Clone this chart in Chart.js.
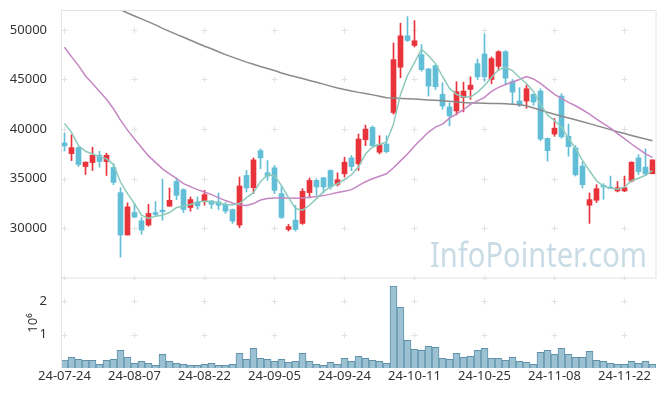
<!DOCTYPE html>
<html lang="en">
<head>
<meta charset="UTF-8" />
<title>Chart</title>
<script src="https://cdn.jsdelivr.net/npm/chart.js@4.4.1/dist/chart.umd.min.js"></script>
<style>
  body { margin: 0; background: #fff; }
  #wrap { position: relative; width: 665px; height: 396px; }
  #price { position: absolute; left: 0; top: 0; }
  #vol { position: absolute; left: 0; top: 278px; }
</style>
</head>
<body>
<div id="wrap">
  <canvas id="price" width="665" height="280"></canvas>
  <canvas id="vol" width="665" height="118"></canvas>
</div>
<script>
// trading days
const dates = [
  "24-07-24","24-07-25","24-07-26","24-07-29","24-07-30","24-07-31","24-08-01","24-08-02","24-08-05","24-08-06",
  "24-08-07","24-08-08","24-08-09","24-08-12","24-08-13","24-08-14","24-08-16","24-08-19","24-08-20","24-08-21",
  "24-08-22","24-08-23","24-08-26","24-08-27","24-08-28","24-08-29","24-08-30","24-09-02","24-09-03","24-09-04",
  "24-09-05","24-09-06","24-09-09","24-09-10","24-09-11","24-09-12","24-09-13","24-09-19","24-09-20","24-09-23",
  "24-09-24","24-09-25","24-09-26","24-09-27","24-09-30","24-10-02","24-10-04","24-10-07","24-10-08","24-10-10",
  "24-10-11","24-10-14","24-10-15","24-10-16","24-10-17","24-10-18","24-10-21","24-10-22","24-10-23","24-10-24",
  "24-10-25","24-10-28","24-10-29","24-10-30","24-10-31","24-11-01","24-11-04","24-11-05","24-11-06","24-11-07",
  "24-11-08","24-11-11","24-11-12","24-11-13","24-11-14","24-11-15","24-11-18","24-11-19","24-11-20","24-11-21",
  "24-11-22","24-11-25","24-11-26","24-11-27","24-11-28"
];

const opens = [
  38600,37530,38130,36230,36630,37370,36730,36130,33600,29330,
  31600,30770,30330,31600,31830,32230,34730,33900,32100,32670,
  32730,32770,32670,32430,31900,30330,35330,34100,37830,35600,
  36100,33500,29900,30830,30500,33600,34830,35100,35830,34430,
  35500,37100,36500,38930,40170,37670,38500,41670,46230,49400,
  48430,47500,46070,46400,43500,42230,41830,43170,44000,46600,
  47570,45000,46330,47800,44770,42830,42830,43500,43830,39070,
  39500,43330,39270,38100,36270,32330,32830,34330,34170,33770,
  33770,34770,37100,36170,35500
];
const highs = [
  39600,39430,38200,36700,38170,37770,37570,36500,34100,32570,
  32500,31100,32430,32700,34970,34070,35000,34000,33170,33170,
  33830,32800,33570,32600,31950,35170,35830,37100,38000,36830,
  36330,34270,30400,32330,34000,35070,35000,35150,35900,35600,
  37170,37330,39500,40400,40330,39330,39330,48670,50670,51330,
  50930,48500,46100,46500,44670,42670,44770,44730,45270,47070,
  49600,47270,47900,47900,45000,44170,44430,43550,44070,39100,
  41070,43570,40500,38330,36670,33570,34400,34500,35270,34730,
  35270,36700,37430,38000,36900
];
const lows = [
  37800,36830,36230,35430,35830,36170,35330,34400,27100,29330,
  31100,29400,30230,31200,30830,32230,32900,31600,31730,31930,
  32330,32000,31900,31500,30500,30070,33670,33500,36000,34830,
  33500,31000,29730,29730,30400,33070,33330,33570,33930,34270,
  35170,35800,35830,38330,38170,37500,37600,41500,45170,48830,
  48270,45830,43330,44000,42000,40330,41430,41730,43000,45000,
  44830,44570,45900,44570,42500,42270,42100,42400,38830,36770,
  39270,39070,37270,35270,34070,30500,32600,32930,34000,33670,
  33700,34670,35430,35330,35500
];
const closes = [
  38300,38130,36430,36670,37370,36730,37370,34630,29330,32170,
  31130,29830,31500,31400,31670,32830,33330,31900,32900,32270,
  33400,32430,32330,31730,30730,34270,34070,36900,37100,35270,
  33830,31100,30170,29900,33730,34830,34170,34170,34170,34900,
  36670,36230,39000,40000,38330,38430,37730,47000,49400,48930,
  48900,46000,44330,44270,42330,41330,43770,43830,44430,45270,
  45270,47100,47800,45130,43730,42430,44070,42730,39000,37830,
  40100,39230,38230,35400,34400,32900,34000,34170,34000,34100,
  34100,36670,35730,35500,36900
];

// moving averages
const ma5 = [
  40570,39670,38330,37770,37500,37230,37000,36430,34670,33500,
  32500,31330,31000,31230,31330,31600,32100,32230,32400,32670,
  32730,32670,32570,32400,32350,32500,33100,33600,34700,35400,
  35300,34300,33100,32000,31830,32330,33000,33700,34200,34500,
  34900,35400,36200,37500,38200,38450,38700,40500,43500,45400,
  46700,48050,47400,46600,45300,44100,43500,43230,43230,43700,
  44400,45200,46000,46200,45900,45200,44600,43800,42500,41400,
  40850,40200,39100,38050,36850,35800,34800,34250,34050,33950,
  34150,34800,35050,35350,35830
];
const ma20 = [
  48250,47300,46400,45350,44600,43800,43000,42050,40900,39900,
  39000,38150,37300,36650,36000,35500,35050,34500,34200,33900,
  33670,33400,33100,32800,32550,32350,32300,32500,32850,33000,
  33070,33070,33070,33030,33050,33130,33200,33300,33450,33620,
  33750,33900,34300,34700,35000,35250,35500,36100,36800,37500,
  38300,39000,39700,40200,40500,41100,41500,41950,42500,42850,
  43200,43800,44200,44500,44750,45000,45300,45050,44600,44050,
  43500,43100,42700,42350,41950,41500,41000,40550,40100,39550,
  39050,38500,38000,37500,37150
];
const ma120 = [
  54500,54200,53900,53600,53300,53000,52650,52330,52030,51700,
  51400,51100,50800,50500,50150,49850,49550,49250,48950,48650,
  48350,48100,47800,47500,47250,47000,46750,46530,46300,46100,
  45900,45650,45450,45270,45100,44900,44720,44530,44330,44140,
  44000,43830,43700,43580,43450,43320,43160,43130,43090,43060,
  43030,42980,42940,42900,42850,42800,42730,42670,42640,42620,
  42600,42590,42580,42560,42510,42450,42350,42130,41920,41700,
  41500,41300,41120,40940,40750,40550,40350,40150,39950,39740,
  39550,39360,39180,39000,38830
];

// volume in millions
const volume = [
  0.24,0.32,0.26,0.23,0.23,0.11,0.23,0.26,0.53,0.32,
  0.14,0.20,0.14,0.08,0.41,0.20,0.14,0.11,0.08,0.08,
  0.11,0.14,0.08,0.08,0.11,0.44,0.26,0.59,0.29,0.26,
  0.20,0.26,0.17,0.20,0.44,0.20,0.11,0.08,0.17,0.11,
  0.29,0.20,0.35,0.29,0.23,0.20,0.14,2.45,1.81,0.83,
  0.56,0.53,0.65,0.62,0.29,0.26,0.44,0.32,0.35,0.53,
  0.59,0.29,0.29,0.23,0.32,0.20,0.17,0.11,0.47,0.53,
  0.41,0.59,0.41,0.32,0.32,0.50,0.23,0.20,0.14,0.11,
  0.11,0.20,0.14,0.20,0.11
];

const priceTicks = [30000, 35000, 40000, 45000, 50000];
const volTicks = [1, 2];

const FONT = '"Noto Sans", "DejaVu Sans", sans-serif';
const UP = "#e8333b";
const DOWN = "#62bed7";
const candleColors = closes.map((c, i) => (c >= opens[i] ? UP : DOWN));

// fixed axis box, no extra padding for edge labels
function fitY(s) {
  s.width = 61;
  s.paddingTop = 0;
  s.paddingBottom = 0;
}

// small "+" marks where grid lines would cross
function crossMarks(chart, yValues, withBottom) {
  const { ctx, chartArea, scales } = chart;
  ctx.save();
  ctx.strokeStyle = "#e2e2e2";
  ctx.lineWidth = 1;
  const ys = yValues.map((v) => scales.y.getPixelForValue(v));
  if (withBottom) ys.push(chartArea.bottom);
  dates.forEach((d, i) => {
    if (i % 10 !== 0) return;
    const x = Math.floor(scales.x.getPixelForValue(i)) + 0.5;
    ys.forEach((yy) => {
      const y = Math.round(yy) + 0.5;
      ctx.beginPath();
      ctx.moveTo(x - 3, y); ctx.lineTo(x + 3, y);
      ctx.moveTo(x, y - 3); ctx.lineTo(x, y + 3);
      ctx.stroke();
    });
  });
  ctx.restore();
}

const pricePanel = {
  id: "pricePanel",
  beforeDatasetsDraw(chart) {
    const { ctx } = chart;
    ctx.save();
    ctx.font = "35px " + FONT;
    ctx.fillStyle = "#c9dce6";
    ctx.textBaseline = "alphabetic";
    ctx.fillText("InfoPointer.com", 430, 267, 217);
    ctx.restore();
    crossMarks(chart, priceTicks, true);
  },
  afterDraw(chart) {
    const { ctx, chartArea } = chart;
    ctx.save();
    ctx.strokeStyle = "#e3e3e3";
    ctx.lineWidth = 1;
    ctx.strokeRect(61.5, 10.5, chartArea.right - 61.5, chartArea.bottom - 10.5);
    ctx.restore();
  }
};

const volPanel = {
  id: "volPanel",
  beforeDatasetsDraw(chart) {
    crossMarks(chart, volTicks, false);
  },
  afterDraw(chart) {
    const { ctx, chartArea } = chart;
    ctx.save();
    ctx.strokeStyle = "#e3e3e3";
    ctx.beginPath();
    ctx.moveTo(61.5, 0);
    ctx.lineTo(61.5, chartArea.bottom);
    ctx.stroke();
    ctx.restore();
  }
};

new Chart(document.getElementById("price"), {
  type: "bar",
  data: {
    labels: dates,
    datasets: [
      { type: "line", label: "MA5", data: ma5, borderColor: "#8ccabb", borderWidth: 1.5, pointRadius: 0, order: 0 },
      { type: "line", label: "MA20", data: ma20, borderColor: "#c586c3", borderWidth: 1.5, pointRadius: 0, order: 0 },
      { type: "line", label: "MA120", data: ma120, borderColor: "#8a8a8a", borderWidth: 1.5, pointRadius: 0, order: 0 },
      {
        label: "body",
        data: opens.map((o, i) => [o, closes[i]]),
        backgroundColor: candleColors,
        barThickness: 5,
        grouped: false,
        order: 1
      },
      {
        label: "wick",
        data: lows.map((l, i) => [l, highs[i]]),
        backgroundColor: candleColors,
        barThickness: 1,
        grouped: false,
        order: 2
      }
    ]
  },
  options: {
    responsive: false,
    animation: false,
    events: [],
    layout: { padding: { top: 10, right: 9, bottom: 2, left: 0 } },
    plugins: { legend: { display: false }, tooltip: { enabled: false } },
    scales: {
      x: { offset: true, display: false },
      y: {
        min: 25000,
        max: 52000,
        afterBuildTicks: (s) => { s.ticks = priceTicks.map((v) => ({ value: v })); },
        afterFit: fitY,
        grid: { display: false },
        border: { display: false },
        ticks: { padding: 6, color: "#333", font: { family: FONT, size: 13 }, callback: (v) => String(v) }
      }
    }
  },
  plugins: [pricePanel]
});

new Chart(document.getElementById("vol"), {
  type: "bar",
  data: {
    labels: dates,
    datasets: [
      {
        label: "volume",
        data: volume,
        backgroundColor: "#9cc1d2",
        borderColor: "#5f92aa",
        borderWidth: 1,
        barPercentage: 1,
        categoryPercentage: 1
      }
    ]
  },
  options: {
    responsive: false,
    animation: false,
    events: [],
    layout: { padding: { top: 0, right: 9, bottom: 0, left: 0 } },
    plugins: { legend: { display: false }, tooltip: { enabled: false } },
    scales: {
      x: {
        offset: true,
        afterFit: (s) => { s.height = 28; s.paddingLeft = 0; s.paddingRight = 0; },
        grid: { display: false },
        border: { display: false },
        ticks: {
          autoSkip: false,
          maxRotation: 0,
          padding: -8,
          color: "#333",
          font: { family: FONT, size: 13 },
          callback: (v, i) => (i % 10 === 0 ? dates[i] : "")
        }
      },
      y: {
        min: 0,
        max: 2.69,
        afterBuildTicks: (s) => { s.ticks = volTicks.map((v) => ({ value: v })); },
        afterFit: fitY,
        grid: { display: false },
        border: { display: false },
        title: { display: true, text: "10⁶", color: "#333", font: { family: FONT, size: 13 }, padding: { top: 25, bottom: 0 } },
        ticks: { padding: 6, color: "#333", font: { family: FONT, size: 13 } }
      }
    }
  },
  plugins: [volPanel]
});
</script>
</body>
</html>
